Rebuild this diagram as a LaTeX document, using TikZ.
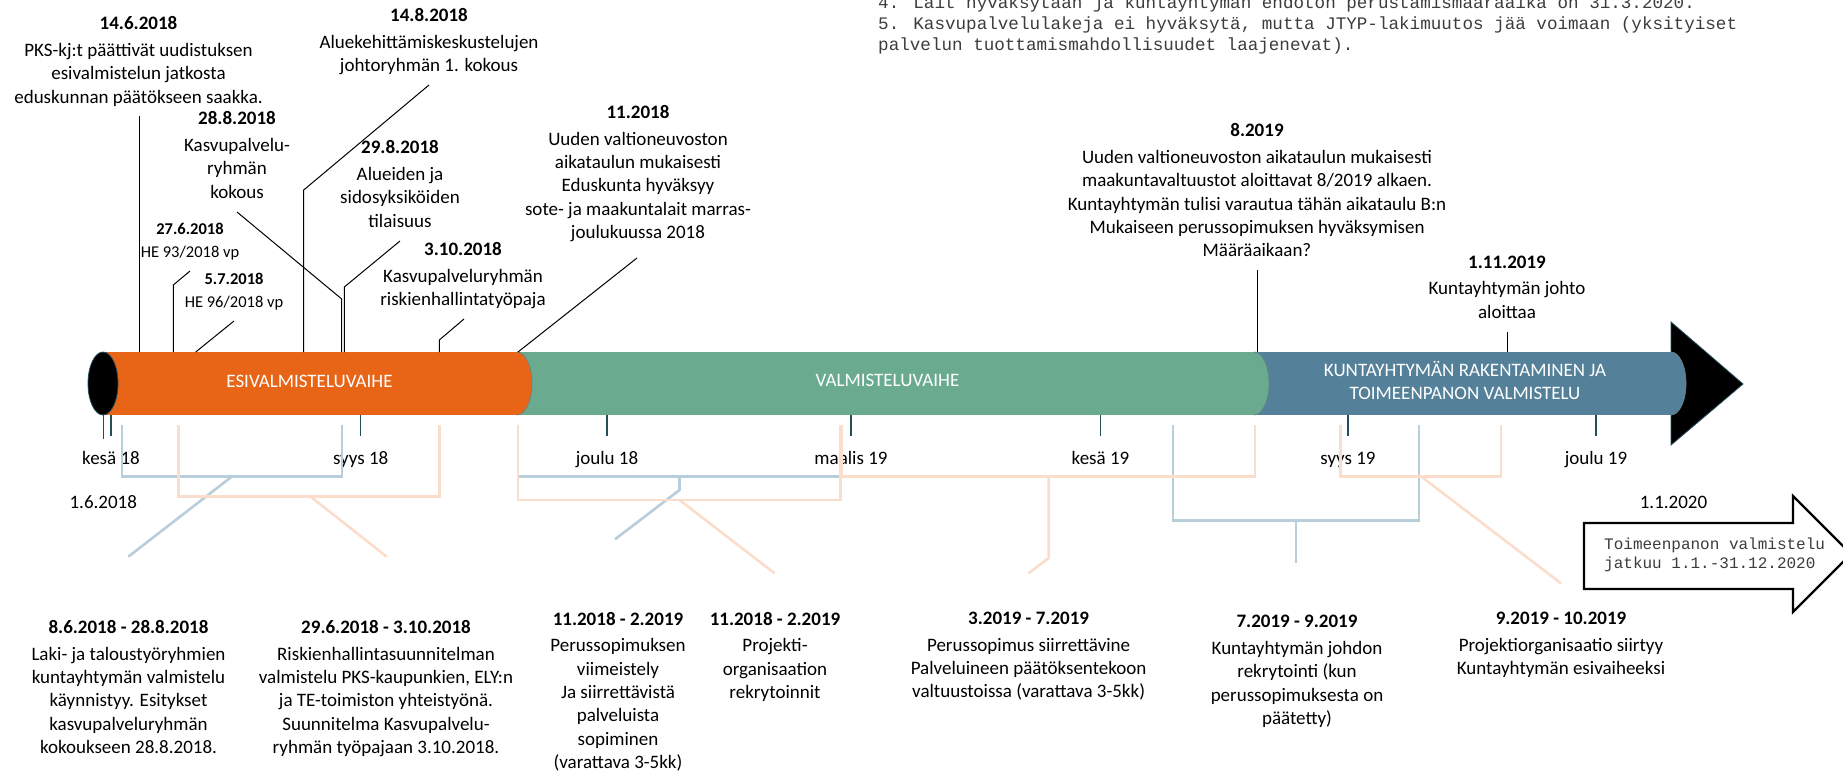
\documentclass[tikz,border=0pt]{standalone}
\usepackage{fontspec}
\setmainfont{Carlito}
\newfontfamily\monof{Liberation Mono}
\definecolor{orng}{RGB}{232,101,23}
\definecolor{grn}{RGB}{106,171,143}
\definecolor{stl}{RGB}{84,129,153}
\definecolor{tickc}{RGB}{35,78,90}
\definecolor{lblue}{RGB}{184,206,219}
\definecolor{peach}{RGB}{251,221,203}
\definecolor{monoc}{RGB}{60,60,60}
\tikzset{
 lbl/.style={align=center, inner sep=0pt, anchor=north, font=\fontsize{19}{23.3}\selectfont},
 slbl/.style={align=center, inner sep=0pt, anchor=north, font=\fontsize{16.5}{23.4}\selectfont},
 ticklbl/.style={inner sep=0pt, anchor=base, font=\fontsize{19}{23}\selectfont},
 phase/.style={align=center, inner sep=0pt, text=white, font=\fontsize{19}{22.4}\selectfont},
 leader/.style={draw=black, line width=1pt},
 tickline/.style={draw=tickc, line width=1.2pt},
 capedge/.style={draw=tickc!70, line width=0.7pt},
 bbr/.style={draw=lblue, line width=2.6pt},
 pbr/.style={draw=peach, line width=2.6pt},
 monotxt/.style={inner sep=0pt, anchor=base west, text=monoc, font=\monof\fontsize{17.6}{21}\selectfont},
 boxtxt/.style={inner sep=0pt, anchor=base west, text=monoc, font=\monof\fontsize{16}{19}\selectfont},
}
\newcommand\ttl[1]{{\bfseries #1}\\[3.4pt]}
\begin{document}
\begin{tikzpicture}[x=1pt,y=-1pt]
\useasboundingbox (0,0) rectangle (1843,773);

% ---- top right notes
\node[monotxt] (m4) at (878,9) {4. Lait hyväksytään ja kuntayhtymän endoton perustamismääräaika on 31.3.2020.};
\node[monotxt] (m5) at (878,30) {5. Kasvupalvelulakeja ei hyväksytä, mutta JTYP-lakimuutos jää voimaan (yksityiset};
\node[monotxt] (m6) at (878,51) {palvelun tuottamismahdollisuudet laajenevat).};

% ---- tube
\filldraw[fill=black, draw=tickc, line width=0.8pt] (1671,322) -- (1743,384) -- (1671,445) -- cycle;
\fill[stl] (1254,352) rectangle (1671,415);
\fill[stl] (1671,383.5) ellipse [x radius=15, y radius=31.5];
\begin{scope}\clip (1671,340) rectangle (1700,430); \draw[capedge] (1671,383.5) ellipse [x radius=15, y radius=31.5];\end{scope}
\fill[grn] (517,352) rectangle (1254,415);
\fill[grn] (1254,383.5) ellipse [x radius=15, y radius=31.5];
\begin{scope}\clip (1254,340) rectangle (1280,430); \draw[capedge] (1254,383.5) ellipse [x radius=15, y radius=31.5];\end{scope}
\fill[orng] (103,352) rectangle (517,415);
\fill[orng] (517,383.5) ellipse [x radius=15, y radius=31.5];
\begin{scope}\clip (517,340) rectangle (545,430); \draw[capedge] (517,383.5) ellipse [x radius=15, y radius=31.5];\end{scope}
\filldraw[fill=black, draw=tickc, line width=0.8pt] (103,383.5) ellipse [x radius=15, y radius=31.5];

\node[phase] (ph1) at (309.5,381.7) {ESIVALMISTELUVAIHE};
\node[phase] (ph2) at (887.5,380.7) {VALMISTELUVAIHE};
\node[phase] (ph3) at (1465,380.5) {KUNTAYHTYMÄN RAKENTAMINEN JA\\TOIMEENPANON VALMISTELU};

% ---- ticks
\foreach \x/\l in {103.3/24, 111/21, 360.7/21, 607/21, 851/21, 1100.5/21, 1348/21, 1596/21}
  \draw[tickline] (\x,415) -- ++(0,\l);

\node[ticklbl] (k18) at (111,464.5) {kesä 18};
\node[ticklbl] (s18) at (360.7,464.5) {syys 18};
\node[ticklbl] (j18) at (607,464.5) {joulu 18};
\node[ticklbl] (m19) at (851,464.5) {maalis 19};
\node[ticklbl] (k19) at (1100.5,464.5) {kesä 19};
\node[ticklbl] (s19) at (1348,464.5) {syys 19};
\node[ticklbl] (j19) at (1596,464.5) {joulu 19};
\node[ticklbl] (d1) at (103.3,508.5) {1.6.2018};
\node[ticklbl] (d2) at (1673.5,508.5) {1.1.2020};

% ---- top labels
\node[lbl] (e1) at (138.5,16.5) {\ttl{14.6.2018}PKS-kj:t päättivät uudistuksen\\esivalmistelun jatkosta\\eduskunnan päätökseen saakka.};
\node[lbl] (e2) at (429,8.5) {\ttl{14.8.2018}Aluekehittämiskeskustelujen\\johtoryhmän 1. kokous};
\node[lbl] (e3) at (237,111.5) {\ttl{28.8.2018}Kasvupalvelu-\\ryhmän\\kokous};
\node[lbl] (e4) at (400,140.5) {\ttl{29.8.2018}Alueiden ja\\sidosyksiköiden\\tilaisuus};
\node[slbl] (e5) at (190,222.5) {{\bfseries 27.6.2018}\\HE 93/2018 vp};
\node[slbl] (e6) at (234,273) {{\bfseries 5.7.2018}\\HE 96/2018 vp};
\node[lbl] (e7) at (463,242) {\ttl{3.10.2018}Kasvupalveluryhmän\\riskienhallintatyöpaja};
\node[lbl] (e8) at (638,105.2) {\ttl{11.2018}Uuden valtioneuvoston\\aikataulun mukaisesti\\Eduskunta hyväksyy\\sote- ja maakuntalait marras-\\joulukuussa 2018};
\node[lbl] (e9) at (1257,123.5) {\ttl{8.2019}Uuden valtioneuvoston aikataulun mukaisesti\\maakuntavaltuustot aloittavat 8/2019 alkaen.\\Kuntayhtymän tulisi varautua tähän aikataulu B:n\\Mukaiseen perussopimuksen hyväksymisen\\Määräaikaan?};
\node[lbl] (e10) at (1507,255.5) {\ttl{1.11.2019}Kuntayhtymän johto\\aloittaa};

% ---- leaders
\coordinate (a1) at (139,116);   \coordinate (b1) at (139,352);
\coordinate (a2) at (429,85);    \coordinate (c2) at (303.7,190);  \coordinate (b2) at (303.7,352);
\coordinate (a3) at (237,212);   \coordinate (c3) at (341.7,299);  \coordinate (b3) at (341.7,352);
\coordinate (a4) at (400,241);   \coordinate (c4) at (344.3,287);  \coordinate (b4) at (344.3,352);
\coordinate (a5) at (190,271);   \coordinate (c5) at (173.3,285);  \coordinate (b5) at (173.3,352);
\coordinate (a6) at (234,321);   \coordinate (b6) at (195.7,352);
\coordinate (a7) at (464,319);   \coordinate (c7) at (439.3,340);  \coordinate (b7) at (439.3,352);
\coordinate (a8) at (637,258);   \coordinate (b8) at (518,352);
\coordinate (a9) at (1257,270);  \coordinate (b9) at (1257,352);
\coordinate (a10) at (1507,332); \coordinate (b10) at (1507,352);
\draw[leader] (a1) -- (b1);
\draw[leader] (a2) -- (c2) -- (b2);
\draw[leader] (a3) -- (c3) -- (b3);
\draw[leader] (a4) -- (c4) -- (b4);
\draw[leader] (a5) -- (c5) -- (b5);
\draw[leader] (a6) -- (b6);
\draw[leader] (a7) -- (c7) -- (b7);
\draw[leader] (a8) -- (b8);
\draw[leader] (a9) -- (b9);
\draw[leader] (a10) -- (b10);

% ---- bottom labels
\node[lbl] (f1) at (128.5,620.2) {\ttl{8.6.2018 - 28.8.2018}Laki- ja taloustyöryhmien\\kuntayhtymän valmistelu\\käynnistyy. Esitykset\\kasvupalveluryhmän\\kokoukseen 28.8.2018.};
\node[lbl] (f2) at (386,620.2) {\ttl{29.6.2018 - 3.10.2018}Riskienhallintasuunnitelman\\valmistelu PKS-kaupunkien, ELY:n\\ja TE-toimiston yhteistyönä.\\Suunnitelma Kasvupalvelu-\\ryhmän työpajaan 3.10.2018.};
\node[lbl] (f3) at (618,611.8) {\ttl{11.2018 - 2.2019}Perussopimuksen\\viimeistely\\Ja siirrettävistä\\palveluista\\sopiminen\\(varattava 3-5kk)};
\node[lbl] (f4) at (775,611.8) {\ttl{11.2018 - 2.2019}Projekti-\\organisaation\\rekrytoinnit};
\node[lbl] (f5) at (1028.6,611.8) {\ttl{3.2019 - 7.2019}Perussopimus siirrettävine\\Palveluineen päätöksentekoon\\valtuustoissa (varattava 3-5kk)};
\node[lbl] (f6) at (1297,615.2) {\ttl{7.2019 - 9.2019}Kuntayhtymän johdon\\rekrytointi (kun\\perussopimuksesta on\\päätetty)};
\node[lbl] (f7) at (1561,611.8) {\ttl{9.2019 - 10.2019}Projektiorganisaatio siirtyy\\Kuntayhtymän esivaiheeksi};

% ---- brackets
\coordinate (B1l) at (122,424.5);  \coordinate (B1r) at (342,424.5);
\coordinate (B1s) at (231.7,476.7); \coordinate (B1e) at (128.3,556.7);
\draw[bbr] (B1l) -- (122,476.7) -- (342,476.7) -- (B1r);
\draw[bbr] (B1s) -- (B1e);

\coordinate (B2l) at (518,424.5);  \coordinate (B2r) at (840.7,424.5);
\coordinate (B2s) at (679.5,476.7); \coordinate (B2k) at (679.5,490); \coordinate (B2e) at (615,539.3);
\draw[bbr] (B2l) -- (518,476.7) -- (840.7,476.7) -- (B2r);
\draw[bbr] (B2s) -- (B2k) -- (B2e);

\coordinate (B3l) at (1172.8,424.5); \coordinate (B3r) at (1419,424.5);
\coordinate (B3s) at (1296,520.7);   \coordinate (B3e) at (1296,563);
\draw[bbr] (B3l) -- (1172.8,520.7) -- (1419,520.7) -- (B3r);
\draw[bbr] (B3s) -- (B3e);

\coordinate (P1l) at (178.7,424.5); \coordinate (P1r) at (439.3,424.5);
\coordinate (P1s) at (310.7,496.7); \coordinate (P1e) at (386.7,556.7);
\draw[pbr] (P1l) -- (178.7,496.7) -- (439.3,496.7) -- (P1r);
\draw[pbr] (P1s) -- (P1e);

\coordinate (P2l) at (518,424.5);  \coordinate (P2r) at (840.7,424.5);
\coordinate (P2s) at (679.5,500);  \coordinate (P2e) at (774.6,573.3);
\draw[pbr] (P2l) -- (518,500) -- (840.7,500) -- (P2r);
\draw[pbr] (P2s) -- (P2e);

\coordinate (P3l) at (842,424.5);  \coordinate (P3r) at (1255,424.5);
\coordinate (P3s) at (1048.7,476.7); \coordinate (P3k) at (1048.7,558); \coordinate (P3e) at (1028.6,573.3);
\draw[pbr] (P3l) -- (842,476.7) -- (1255,476.7) -- (P3r);
\draw[pbr] (P3s) -- (P3k) -- (P3e);

\coordinate (P4l) at (1340.6,424.5); \coordinate (P4r) at (1501,424.5);
\coordinate (P4s) at (1421.4,476.7); \coordinate (P4e) at (1561,583.3);
\draw[pbr] (P4l) -- (1340.6,476.7) -- (1501,476.7) -- (P4r);
\draw[pbr] (P4s) -- (P4e);

% ---- continuation arrow
\filldraw[fill=white, draw=black, line width=2.4pt, line join=miter]
  (1584,523) -- (1793,523) -- (1793,496) -- (1851,554) -- (1793,612) -- (1793,589) -- (1584,589) -- cycle;
\node[boxtxt] (g1) at (1604,549) {Toimeenpanon valmistelu};
\node[boxtxt] (g2) at (1604,568) {jatkuu 1.1.-31.12.2020};
\end{tikzpicture}
\end{document}
